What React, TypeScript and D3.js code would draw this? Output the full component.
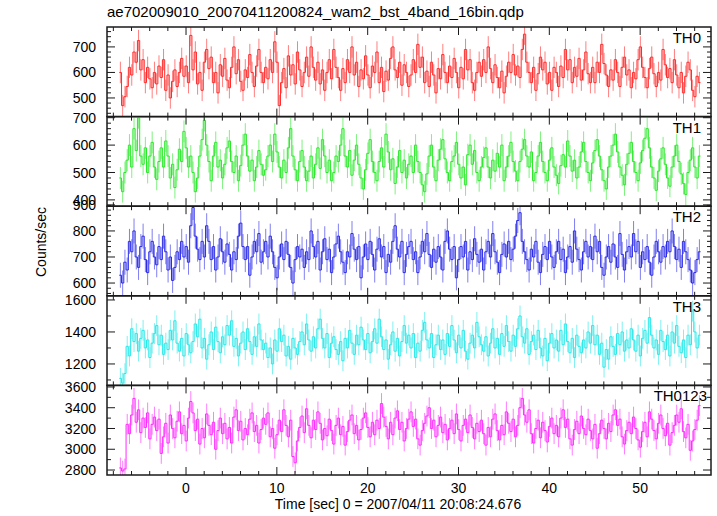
import React from "react";
import * as d3 from "d3";

const title = "ae702009010_20070411200824_wam2_bst_4band_16bin.qdp";
const xLabel = "Time [sec] 0 = 2007/04/11 20:08:24.676";
const yLabel = "Counts/sec";
const panelNames = ["TH0", "TH1", "TH2", "TH3", "TH0123"];
const colors = ["#ff2a2a", "#2ae82a", "#2a2ae8", "#2ae8e8", "#ff2aff"];
const yDomains = [[427, 778], [377, 704], [551, 895], [1066, 1626], [2752, 3615]];
const yMajorTicks = [[500, 600, 700], [400, 500, 600, 700], [600, 700, 800, 900], [1200, 1400, 1600], [2800, 3000, 3200, 3400, 3600]];
const yMinorStep = [20, 20, 20, 100, 100];
const xDomain = [-8.7, 57.8];
const xMajorTicks = [0, 10, 20, 30, 40, 50];
const xMinorStep = 2;
const binWidth = 0.25;
const tStart = -7.35;
const errs = [42, 40, 48, 65, 100];

const th0 = [
600,470,505,545,620,590,680,640,725,610,650,560,620,575,540,600,
555,625,580,650,530,590,500,565,610,545,600,655,585,625,560,745,
610,680,555,600,530,640,690,615,660,560,600,520,630,585,655,570,
540,620,700,595,650,565,530,610,580,670,600,545,625,690,600,560,
620,575,650,600,720,640,470,560,615,540,665,590,630,555,680,610,
545,600,660,585,700,620,570,640,555,610,530,600,650,575,690,620,
580,530,615,560,650,600,700,590,640,545,610,575,665,590,540,625,
600,680,560,620,525,605,570,655,700,610,580,640,550,630,600,545,
590,650,600,710,620,660,560,605,545,640,590,520,615,575,670,600,
560,625,580,655,600,540,620,575,690,610,650,560,530,600,640,585,
650,600,700,615,560,630,580,540,605,520,585,640,600,670,590,625,
580,690,750,640,600,560,620,530,595,660,610,640,555,600,530,620,
600,545,625,580,690,610,650,560,620,585,655,570,610,680,595,560,
620,560,640,600,710,635,590,545,610,570,650,600,545,620,660,590,
610,540,600,575,650,700,620,580,540,615,660,595,545,600,570,690,
630,580,615,560,650,590,540,600,520,585,640,610,530,505,585,560];

const th1 = [
480,430,500,545,600,520,660,580,700,560,530,590,500,560,610,520,
475,540,590,520,615,560,480,530,445,510,585,540,650,590,520,560,
500,430,480,560,620,690,600,540,470,560,610,520,545,480,530,590,
615,540,500,560,470,525,600,640,560,505,545,470,520,580,530,490,
510,560,600,540,640,575,520,480,545,500,590,660,560,510,470,540,
580,520,470,505,560,480,530,590,515,620,560,500,545,470,500,560,
540,600,660,560,520,580,490,545,600,530,480,440,510,570,620,540,
500,470,540,590,520,640,575,510,550,460,520,580,500,545,480,530,
560,500,600,540,500,455,430,495,560,600,520,470,545,585,620,550,
500,470,540,560,610,530,480,520,455,565,600,530,580,500,470,520,
555,590,520,480,545,505,570,520,600,470,520,560,610,540,505,470,
540,585,620,560,520,575,470,500,560,610,540,500,470,545,590,520,
490,460,525,565,520,615,560,505,545,480,520,575,610,540,500,470,
535,580,620,560,510,470,440,520,560,600,640,575,520,490,455,530,
570,610,540,500,470,535,580,625,660,590,520,480,435,505,550,590,
530,480,450,520,560,600,540,495,460,420,500,545,590,520,480,560];

const th2 = [
630,600,680,650,760,720,800,700,660,740,780,690,640,720,760,700,
670,740,690,780,720,650,700,610,660,720,690,760,700,740,680,820,
890,780,730,690,760,700,820,760,690,740,650,700,770,720,680,750,
710,650,720,690,780,830,740,690,740,630,700,760,720,790,680,720,
760,700,780,720,660,620,700,750,690,760,710,660,600,690,740,700,
730,660,720,690,800,740,700,760,650,720,770,690,730,640,700,750,
780,720,680,640,720,700,790,730,690,740,620,700,750,690,760,710,
650,730,770,700,740,640,710,680,760,820,730,700,760,640,710,740,
760,690,720,640,700,760,720,790,710,660,730,680,740,700,650,760,
800,730,690,740,620,690,740,700,760,650,720,690,770,710,680,730,
650,720,760,700,790,720,680,640,710,750,700,760,690,730,780,840,
870,760,720,690,650,730,700,760,680,640,710,740,690,760,700,660,
720,760,690,730,640,700,740,680,800,730,690,650,720,760,700,740,
690,780,720,760,660,630,700,740,680,750,700,660,790,710,650,720,
740,700,790,720,760,660,720,690,740,680,630,700,760,720,680,740,
700,760,720,800,740,690,730,660,760,720,690,650,600,640,690,720];

const th3 = [
1110,1080,1140,1310,1250,1420,1340,1390,1280,1360,1410,1300,1350,1240,1330,1390,
1440,1320,1380,1260,1330,1290,1410,1350,1470,1330,1280,1360,1250,1390,1320,1270,
1340,1450,1370,1480,1300,1360,1230,1320,1400,1290,1430,1340,1270,1370,1320,1440,
1380,1470,1310,1360,1250,1330,1400,1290,1420,1340,1260,1370,1310,1450,1350,1290,
1330,1240,1300,1200,1350,1280,1420,1340,1380,1250,1310,1230,1360,1300,1260,1340,
1400,1320,1450,1350,1280,1370,1300,1420,1480,1360,1300,1390,1240,1330,1370,1290,
1260,1340,1220,1360,1300,1410,1330,1260,1380,1320,1430,1350,1290,1390,1270,1340,
1420,1330,1480,1370,1290,1350,1230,1320,1400,1280,1360,1250,1340,1440,1330,1380,
1300,1390,1240,1330,1280,1410,1460,1350,1300,1390,1240,1320,1380,1290,1350,1260,
1390,1310,1440,1350,1270,1380,1300,1410,1280,1230,1330,1380,1300,1460,1370,1320,
1280,1370,1250,1330,1420,1300,1360,1260,1390,1310,1440,1340,1280,1380,1310,1420,
1500,1370,1330,1420,1260,1340,1380,1290,1410,1300,1250,1360,1220,1330,1390,1300,
1350,1280,1410,1320,1450,1340,1270,1360,1240,1380,1310,1270,1350,1300,1400,1330,
1440,1320,1380,1260,1330,1180,1290,1230,1370,1310,1260,1390,1320,1400,1280,1350,
1300,1420,1350,1280,1380,1250,1360,1410,1330,1490,1380,1300,1350,1260,1410,1340,
1290,1380,1250,1400,1330,1440,1310,1270,1350,1240,1380,1320,1530,1400,1300,1380];

const th0123 = [
2820,2790,2810,3240,3150,3330,3490,3260,3380,3160,3300,3210,3350,3100,3240,3310,
3180,3290,2960,3120,3250,3060,3330,3200,3110,3270,3360,3150,3230,3080,3300,3460,
3350,3180,3290,3050,3200,3110,3340,3230,3140,3260,3000,3180,3300,3150,3250,3100,
3210,3060,3310,3380,3180,3270,3090,3200,3140,3290,3350,3170,3230,3060,3190,3300,
3240,3350,3120,3200,3010,3140,3280,3170,3380,3230,3120,3280,2930,2870,3080,3210,
3320,3160,3390,3230,3110,3280,3190,3360,3250,3090,3200,3130,3290,3180,3050,3230,
3300,3140,3220,3040,3170,3280,3330,3150,3230,3090,3190,3300,3350,3210,3120,3260,
3140,3280,3200,3440,3310,3220,3100,3260,3140,3300,3370,3190,3260,3080,3200,3290,
3360,3220,3290,3100,3040,3180,3250,3320,3400,3200,3280,3120,3230,3310,3160,3240,
3090,3200,3280,3150,3340,3190,3080,3230,3290,3160,3330,3210,3100,3250,3170,3280,
3150,3040,3210,3120,3290,3340,3180,3090,3230,3140,3360,3250,3170,3290,3120,3230,
3400,3490,3330,3260,3380,3150,3060,3200,3280,3110,3260,3180,3070,3220,3300,3150,
3230,3120,3300,3380,3210,3290,3100,3040,3190,3270,3150,3320,3200,3140,3290,3180,
3100,3240,3010,3150,3280,3200,3100,3250,3170,3330,3380,3230,3290,3120,3050,3180,
3260,3150,3310,3200,3090,3020,3170,3260,3120,3360,3290,3180,3100,3250,3330,3200,
3130,3250,3040,3160,3230,3330,3260,3390,3170,3110,3240,2990,3080,3190,3280,3420];

const series = [th0, th1, th2, th3, th0123];

const W = 717, H = 516;
const plotLeft = 107, plotRight = 711, plotTop = 27, plotBottom = 475;
const FONT = "'Liberation Sans', Arial, Helvetica, sans-serif";
const AXIS = "#1a1a1a";

function range(a: number, b: number, step: number) {
  const out: number[] = [];
  for (let v = a; v <= b + 1e-9; v += step) out.push(Math.round(v * 1000) / 1000);
  return out;
}

export default function App() {
  const x = d3.scaleLinear().domain(xDomain).range([plotLeft, plotRight]);
  const n = series.length;
  const ph = (plotBottom - plotTop) / n;
  const xMinor = range(-8, 56, xMinorStep).filter((t) => !xMajorTicks.includes(t));

  return (
    <svg width={W} height={H} style={{ position: "absolute", left: 0, top: 0, background: "#fff" }} fontFamily={FONT}>
      <rect x={0} y={0} width={W} height={H} fill="#fff" />
      <defs>
        {series.map((_, i) => (
          <clipPath id={`clip${i}`} key={i}>
            <rect x={plotLeft} y={plotTop + i * ph} width={plotRight - plotLeft} height={ph} />
          </clipPath>
        ))}
      </defs>
      <text x={107} y={17} fontSize={15} fill="#000">{title}</text>
      {series.map((vals, i) => {
        const top = plotTop + i * ph;
        const bottom = top + ph;
        const y = d3.scaleLinear().domain(yDomains[i]).range([bottom, top]);
        const e = errs[i];
        const pts: [number, number][] = [];
        vals.forEach((v, k) => {
          const t0 = tStart + k * binWidth;
          pts.push([x(t0), y(v)]);
          pts.push([x(t0 + binWidth), y(v)]);
        });
        const stepPath = d3.line()(pts) || "";
        const errPath = vals
          .map((v, k) => {
            const tc = tStart + (k + 0.5) * binWidth;
            return `M${x(tc)},${y(v - e)}V${y(v + e)}`;
          })
          .join("");
        const [d0, d1] = yDomains[i];
        const minor = range(Math.ceil(d0 / yMinorStep[i]) * yMinorStep[i], d1, yMinorStep[i]).filter(
          (v) => !yMajorTicks[i].includes(v)
        );
        return (
          <g key={i}>
            <g clipPath={`url(#clip${i})`}>
              <path d={errPath} stroke={colors[i]} strokeOpacity={0.6} strokeWidth={1} fill="none" />
              <path d={stepPath} stroke={colors[i]} strokeWidth={1} fill="none" />
            </g>
            {yMajorTicks[i].map((v) => (
              <g key={`ym${v}`}>
                <line x1={plotLeft} x2={plotLeft + 8} y1={y(v)} y2={y(v)} stroke={AXIS} strokeWidth={1} />
                <line x1={plotRight} x2={plotRight - 8} y1={y(v)} y2={y(v)} stroke={AXIS} strokeWidth={1} />
                <text x={96} y={y(v)} dy="0.36em" textAnchor="end" fontSize={14} fill="#000">{v}</text>
              </g>
            ))}
            {minor.map((v) => (
              <g key={`yn${v}`}>
                <line x1={plotLeft} x2={plotLeft + 4} y1={y(v)} y2={y(v)} stroke={AXIS} strokeWidth={1} />
                <line x1={plotRight} x2={plotRight - 4} y1={y(v)} y2={y(v)} stroke={AXIS} strokeWidth={1} />
              </g>
            ))}
            {xMajorTicks.map((t) => (
              <g key={`xm${t}`}>
                <line x1={x(t)} x2={x(t)} y1={top} y2={top + 8} stroke={AXIS} strokeWidth={1} />
                <line x1={x(t)} x2={x(t)} y1={bottom} y2={bottom - 8} stroke={AXIS} strokeWidth={1} />
              </g>
            ))}
            {xMinor.map((t) => (
              <g key={`xn${t}`}>
                <line x1={x(t)} x2={x(t)} y1={top} y2={top + 4} stroke={AXIS} strokeWidth={1} />
                <line x1={x(t)} x2={x(t)} y1={bottom} y2={bottom - 4} stroke={AXIS} strokeWidth={1} />
              </g>
            ))}
            <rect x={plotLeft} y={top} width={plotRight - plotLeft} height={ph} fill="none" stroke={AXIS} strokeWidth={1.5} />
            <text x={i === n - 1 ? 707 : 701} y={top + 16} textAnchor="end" fontSize={15} fill="#000">{panelNames[i]}</text>
          </g>
        );
      })}
      {xMajorTicks.map((t) => (
        <text key={`xl${t}`} x={x(t)} y={493} textAnchor="middle" fontSize={14} fill="#000">{t}</text>
      ))}
      <text x={398} y={509} textAnchor="middle" fontSize={14} fill="#000">{xLabel}</text>
      <text transform={`translate(46,242) rotate(-90)`} textAnchor="middle" fontSize={14} fill="#000">{yLabel}</text>
    </svg>
  );
}
